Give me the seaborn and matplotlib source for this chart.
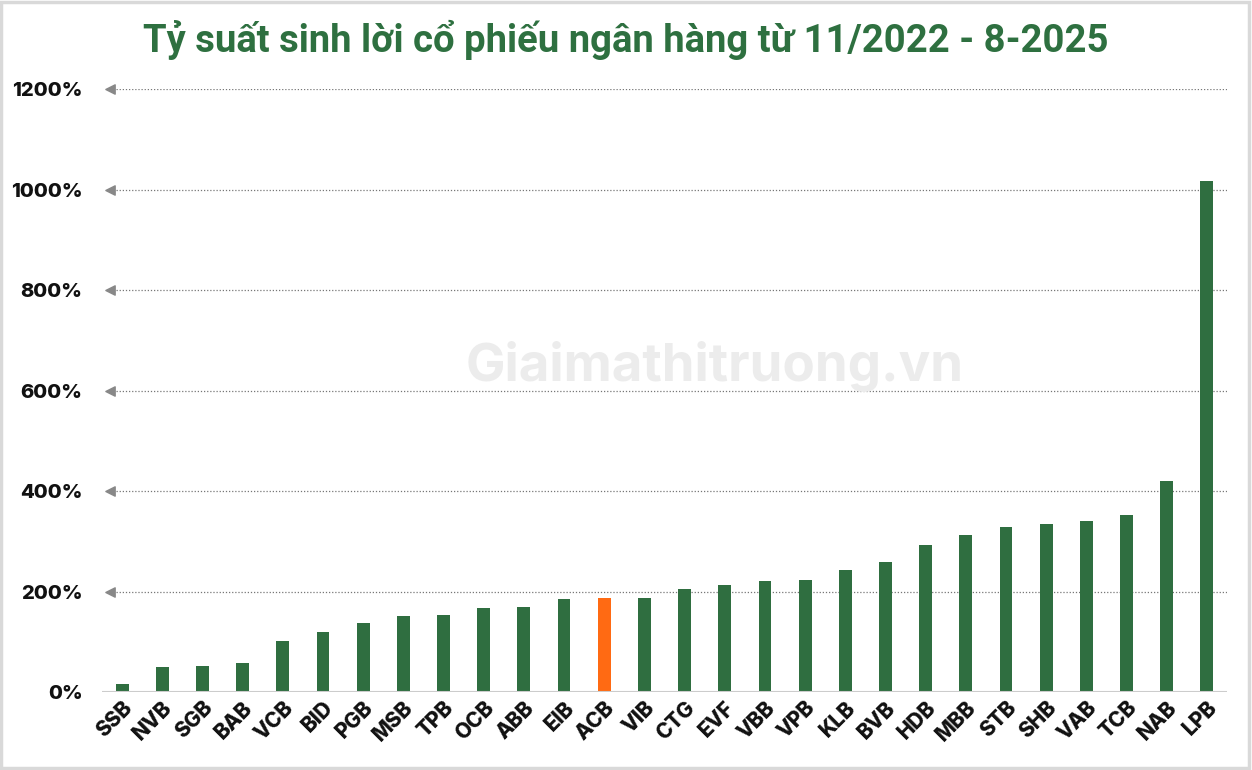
import matplotlib
matplotlib.use("Agg")
import matplotlib.pyplot as plt
import matplotlib.transforms as mtransforms
from matplotlib.patches import Rectangle
import seaborn as sns

# Data (% return, 11/2022 - 8/2025)
banks = ["SSB", "NVB", "SGB", "BAB", "VCB", "BID", "PGB", "MSB", "TPB", "OCB",
         "ABB", "EIB", "ACB", "VIB", "CTG", "EVF", "VBB", "VPB", "KLB", "BVB",
         "HDB", "MBB", "STB", "SHB", "VAB", "TCB", "NAB", "LPB"]
returns = [16, 50, 52, 58, 101, 119, 137, 152, 153, 167,
           169, 186, 187, 188, 205, 213, 220, 223, 242, 259,
           293, 312, 328, 334, 341, 353, 420, 1017]
highlight = "ACB"
y_ticks = [0, 200, 400, 600, 800, 1000, 1200]

GREEN = "#2f6e40"
ORANGE = "#ff6a13"
TITLE_GREEN = "#2e7040"

sns.set_theme(style="white")
plt.rcParams["font.family"] = ["Inter", "DejaVu Sans"]

fig = plt.figure(figsize=(12.52, 7.7), dpi=100)
ax = fig.add_axes([0.0815, 0.1013, 0.8985, 0.7831])

palette = {b: (ORANGE if b == highlight else GREEN) for b in banks}
sns.barplot(x=banks, y=returns, hue=banks, palette=palette, legend=False,
            width=0.32, saturation=1, ax=ax, edgecolor="none")

ax.set_xlim(-0.5, len(banks) - 0.5)
ax.set_ylim(0, 1200)
ax.set_yticks(y_ticks)
ax.set_yticklabels([f"{v}%" for v in y_ticks], fontsize=14.5, fontweight="heavy",
                   color="#111111")
ax.tick_params(axis="y", length=0, pad=14)
ax.tick_params(axis="x", length=0, pad=4)
for lbl in ax.get_xticklabels():
    lbl.set_rotation(45)
    lbl.set_ha("right")
    lbl.set_rotation_mode("anchor")
    lbl.set_fontsize(15)
    lbl.set_fontweight("heavy")
    lbl.set_color("#111111")

# dotted gridlines with arrow markers at the left
for v in y_ticks[1:]:
    ax.axhline(v, xmin=0.012, color="#777777", linestyle=(0, (1, 1.5)),
               linewidth=0.9, zorder=0)
trans = mtransforms.blended_transform_factory(ax.transAxes, ax.transData)
ax.scatter([0.007] * (len(y_ticks) - 1), y_ticks[1:], marker="<", s=45,
           color="#888888", transform=trans, clip_on=False, zorder=3)
ax.axhline(0, color="#cccccc", linewidth=1.5, zorder=4)

for s in ax.spines.values():
    s.set_visible(False)
ax.set_xlabel("")
ax.set_ylabel("")

# watermark
ax.text(0.545, 0.54, "Giaimathitruong.vn", transform=ax.transAxes,
        fontsize=38, fontweight="bold", color="#ececec", ha="center",
        va="center", zorder=0)

fig.text(0.5, 0.948, "Tỷ suất sinh lời cổ phiếu ngân hàng từ 11/2022 - 8-2025",
         ha="center", va="center", fontsize=27.5, fontweight="bold",
         color=TITLE_GREEN, family=["Roboto", "DejaVu Sans"])

# light frame around the image
fig.patches.append(Rectangle((0.001, 0.002), 0.997, 0.995, transform=fig.transFigure,
                             fill=False, edgecolor="#d9d9d9", linewidth=2.5))

fig.savefig("out.png", dpi=100, facecolor="white")
